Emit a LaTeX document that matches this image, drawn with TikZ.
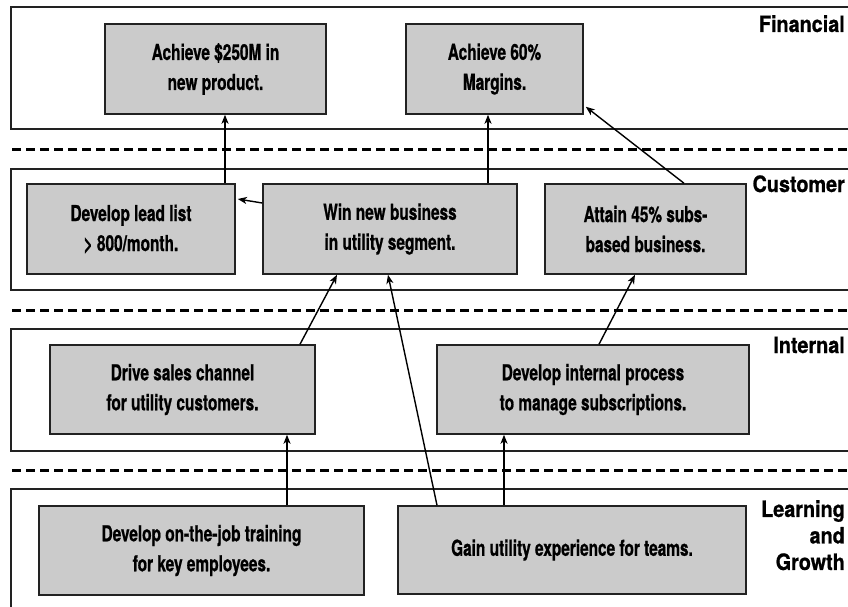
\documentclass[tikz,border=0pt]{standalone}
\usepackage{fontspec}
\setmainfont{TeX Gyre Heros}
\newfontfamily\boxfont{TeX Gyre Heros}[FakeStretch=0.7,FakeBold=0.8]
\newfontfamily\bandfont{TeX Gyre Heros}[FakeStretch=0.88,FakeBold=0.8]
\usetikzlibrary{arrows.meta}
\definecolor{boxgray}{HTML}{CBCBCB}
\definecolor{edge}{HTML}{222222}

\begin{document}
\begin{tikzpicture}[x=1pt,y=-1pt,
  band/.style={draw=edge, line width=1.6pt},
  divider/.style={line width=3pt, dash pattern=on 9pt off 5pt},
  goal/.style={draw=edge, fill=boxgray, line width=1.5pt, inner sep=0pt,
    align=center, font=\boxfont\bfseries\fontsize{22}{30}\selectfont},
  layer/.style={font=\bandfont\bfseries\fontsize{22.5}{26.5}\selectfont,
    inner sep=0pt, align=right},
  link/.style={line width=1.4pt, -{Stealth[length=9pt,width=7pt,inset=2.5pt]}}
]
\useasboundingbox (0,0) rectangle (848,607);

% perspective bands
\draw[band] (11,7) rectangle (880,129);
\draw[band] (11,169) rectangle (880,290);
\draw[band] (11,329) rectangle (880,451);
\draw[band] (11,489) rectangle (880,640);

% separators between perspectives
\draw[divider] (12,149) -- (860,149);
\draw[divider] (12,310) -- (860,310);
\draw[divider] (12,470) -- (860,470);

% perspective labels
\node[layer, anchor=base east] (finlabel) at (845,32) {Financial};
\node[layer, anchor=base east] (custlabel) at (845,192) {Customer};
\node[layer, anchor=base east] (intlabel) at (845,353) {Internal};
\node[layer, anchor=north east] (learnlabel) at (845,500) {Learning\\and\\Growth};

% objectives
\node[goal, minimum width=221pt, minimum height=90pt] (fin1) at (215.5,69)
  {Achieve \$250M in\\new product.};
\node[goal, minimum width=177pt, minimum height=90pt] (fin2) at (494.5,69)
  {Achieve 60\%\\Margins.};
\node[goal, minimum width=208pt, minimum height=90pt] (lead) at (131,229)
  {Develop lead list\\> 800/month.};
\node[goal, minimum width=254pt, minimum height=90pt] (win) at (390,229)
  {Win new business\\in utility segment.};
\node[goal, minimum width=201pt, minimum height=90pt] (attain) at (645.5,229)
  {Attain 45\% subs-\\based business.};
\node[goal, minimum width=265pt, minimum height=89pt] (drive) at (182.5,389.5)
  {Drive sales channel\\for utility customers.};
\node[goal, minimum width=312pt, minimum height=89pt] (process) at (593,389.5)
  {Develop internal process\\to manage subscriptions.};
\node[goal, minimum width=325pt, minimum height=89pt] (job) at (201.5,550.5)
  {Develop on-the-job training\\for key employees.};
\node[goal, minimum width=348pt, minimum height=88pt] (gain) at (572,550)
  {Gain utility experience for teams.};

% cause and effect links
\draw[link] (lead.north -| 225,0) -- (fin1.south -| 225,0);
\draw[link] ([yshift=26pt]win.west) -- ([yshift=30pt,xshift=2pt]lead.east);
\draw[link] (win.north -| 488,0) -- (fin2.south -| 488,0);
\draw[link] (attain.north -| 684,0) -- ([xshift=2pt,yshift=8pt]fin2.south east);
\draw[link] (drive.north -| 300,0) -- (win.south -| 337,0);
\draw[link] (gain.north -| 437,0) -- (win.south -| 388,0);
\draw[link] (job.north -| 287,0) -- (drive.south -| 287,0);
\draw[link] (gain.north -| 504,0) -- (process.south -| 504,0);
\draw[link] (process.north -| 599,0) -- (attain.south -| 635,0);
\end{tikzpicture}
\end{document}
